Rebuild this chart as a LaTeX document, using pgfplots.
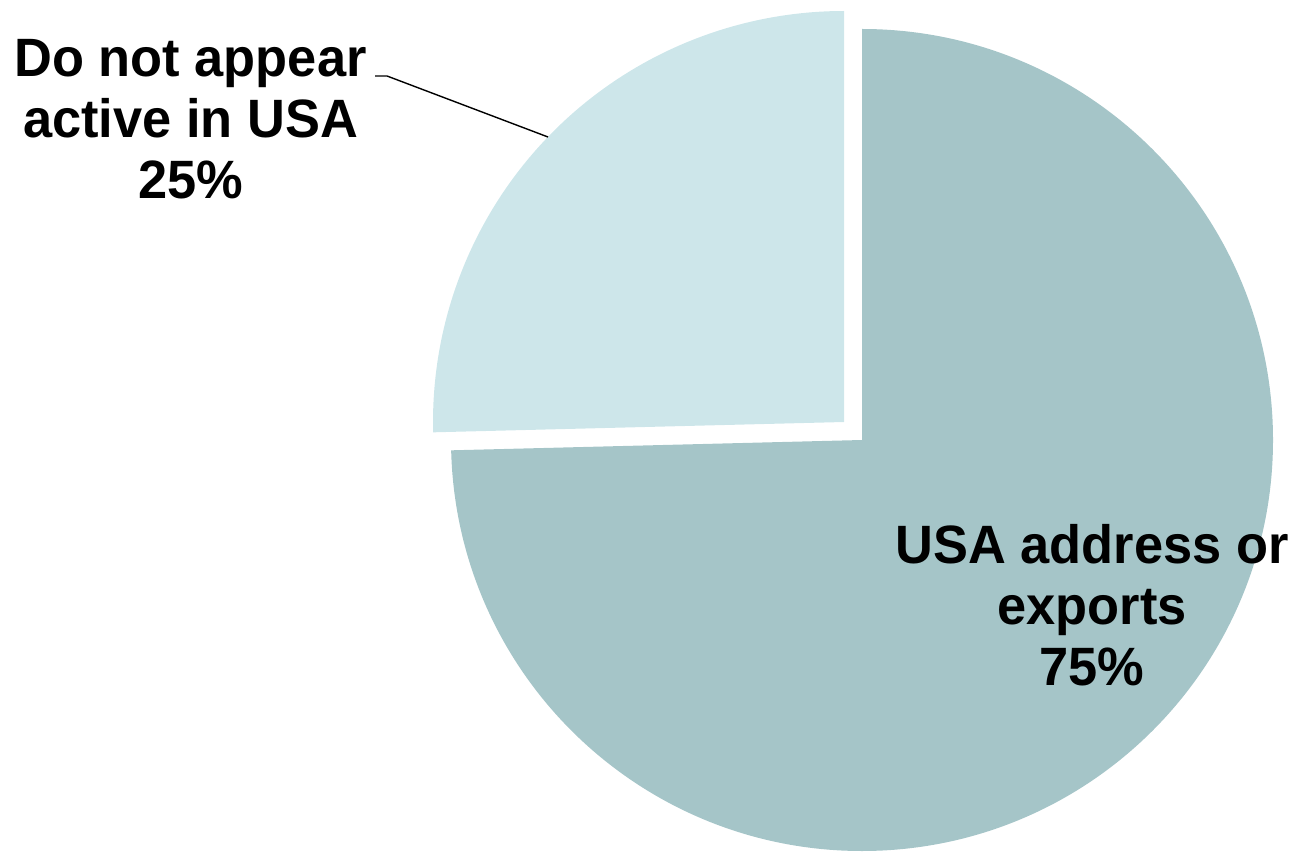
\documentclass[border=0pt]{standalone}
\usepackage{fontspec}
\setmainfont{Liberation Sans}[FakeStretch=0.97]
\usepackage{pgfplots}
\usepackage{pgfplotstable}
\pgfplotsset{compat=1.18}
\definecolor{bigslice}{HTML}{A5C5C8}
\definecolor{smallslice}{HTML}{CDE6EA}
\pgfplotstableread{
label value
USA 74.6
NotActive 25.4
}\piedata
\begin{document}%
\begin{tikzpicture}
\pgfplotstablegetelem{0}{value}\of\piedata
\pgfmathsetmacro{\vA}{\pgfplotsretval}
\pgfplotstablegetelem{1}{value}\of\piedata
\pgfmathsetmacro{\vB}{\pgfplotsretval}
\pgfmathsetmacro{\endA}{90-3.6*\vA}
\pgfmathsetmacro{\startB}{\endA+360}
\pgfmathsetmacro{\endB}{\startB-3.6*\vB}
\begin{axis}[
  scale only axis, width=647pt, height=426pt,
  xmin=0, xmax=1294, ymin=0, ymax=852,
  hide axis, clip=false,
]
\addplot[draw=none, forget plot] coordinates {(0,0) (1294,852)};
\fill[bigslice] (axis cs:862,412) -- ++(90:205.5pt) arc[start angle=90, end angle=\endA, radius=205.5pt] -- cycle;
\fill[smallslice] (axis cs:844,430) -- ++(\startB:205.5pt) arc[start angle=\startB, end angle=\endB, radius=205.5pt] -- cycle;
\draw[black, line width=0.7pt] (axis cs:375,776) -- (axis cs:387,776) -- (axis cs:548,715);
\begin{scope}[every node/.style={anchor=base, inner sep=0pt, font=\fontsize{27}{31}\selectfont\bfseries}]
\node at (axis cs:190.5,775) {Do not appear};
\node at (axis cs:190.5,714) {active in USA};
\node at (axis cs:190.5,653) {25\%};
\node at (axis cs:1092,289) {USA address or};
\node at (axis cs:1092,228) {exports};
\node at (axis cs:1092,167) {75\%};
\end{scope}
\end{axis}
\end{tikzpicture}%
\end{document}
